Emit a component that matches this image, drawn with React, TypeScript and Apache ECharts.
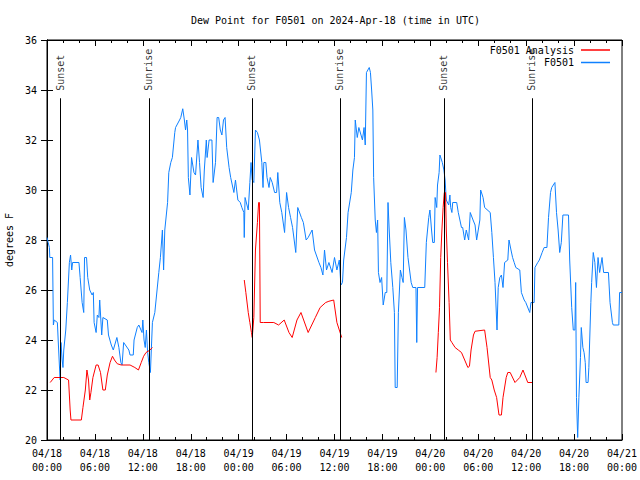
import React, { useEffect, useRef } from "react";
import * as echarts from "echarts";

const title = "Dew Point for F0501 on 2024-Apr-18 (time in UTC)";
const yAxisName = "degrees F";
const obsName = "F0501";
const anaName = "F0501 Analysis";

// hours since 2024-04-18 00:00 UTC
const obsHours = [
  0.0, 0.15, 0.3, 0.35, 0.7, 0.8, 0.9, 1.3, 1.4, 1.55, 1.65, 1.75, 1.9, 2.0, 2.1, 2.35, 2.55, 2.8, 2.95, 3.1,
  3.2, 4.0, 4.15, 4.4, 4.6, 4.7, 4.95, 5.1, 5.35, 5.65, 5.8, 5.9, 6.15, 6.3, 6.5, 6.6, 6.85, 7.0, 7.55, 7.7,
  8.05, 8.3, 8.75, 9.0, 9.25, 9.4, 9.6, 10.25, 10.4, 10.8, 10.9, 11.3, 11.5, 11.9, 12.0, 12.15, 12.3, 12.45, 12.6, 12.75,
  12.95, 13.2, 13.5, 14.0, 14.2, 14.45, 14.6, 14.75, 15.1, 15.25, 15.5, 15.7, 16.0, 16.1, 16.6, 16.75, 17.0, 17.2, 17.35, 17.5,
  17.6, 17.7, 17.9, 18.1, 18.4, 18.6, 18.9, 19.1, 19.3, 19.55, 19.7, 19.95, 20.05, 20.3, 20.65, 20.8, 21.1, 21.3, 21.5, 21.7,
  21.9, 22.1, 22.3, 22.5, 22.8, 23.0, 23.4, 23.6, 23.9, 24.2, 24.4, 24.65, 24.7, 24.8, 25.2, 25.4, 25.55, 25.7, 25.9, 26.1,
  26.35, 26.6, 26.9, 27.05, 27.15, 27.4, 27.55, 27.8, 27.95, 28.2, 28.5, 28.75, 28.9, 29.15, 29.4, 29.75, 30.0, 30.25, 30.5, 30.75,
  31.15, 31.4, 31.85, 32.1, 32.45, 32.7, 33.2, 33.5, 34.05, 34.3, 34.55, 34.75, 35.0, 35.3, 35.7, 36.0, 36.3, 36.6, 36.8, 37.0,
  37.15, 37.5, 37.7, 38.1, 38.3, 38.5, 38.6, 38.85, 39.05, 39.5, 39.7, 39.85, 40.0, 40.35, 40.5, 40.65, 40.8, 40.9, 41.1, 41.25,
  41.4, 41.5, 41.7, 41.9, 42.1, 42.35, 42.55, 42.7, 42.85, 43.05, 43.3, 43.5, 43.6, 43.85, 44.0, 44.25, 44.45, 44.6, 44.75, 44.95,
  45.2, 45.6, 45.8, 46.2, 46.3, 46.4, 47.3, 47.5, 47.8, 47.95, 48.15, 48.3, 48.5, 48.6, 48.8, 48.9, 49.1, 49.2, 49.5, 49.7,
  49.85, 50.0, 50.3, 50.45, 50.55, 50.7, 50.8, 51.3, 51.5, 51.9, 52.05, 52.3, 52.5, 52.8, 53.0, 53.35, 53.6, 53.8, 54.0, 54.2,
  54.3, 54.6, 54.8, 55.5, 55.7, 55.9, 56.1, 56.35, 56.5, 56.7, 56.9, 57.1, 57.3, 57.7, 57.85, 58.1, 58.3, 58.5, 58.7, 59.2,
  59.4, 59.75, 59.95, 60.45, 60.6, 61.0, 61.1, 61.45, 61.65, 62.0, 62.25, 62.6, 62.8, 63.05, 63.2, 63.6, 63.8, 64.0, 64.2, 64.4,
  64.6, 65.3, 65.45, 65.7, 65.9, 66.1, 66.2, 66.3, 66.45, 66.6, 66.8, 66.9, 67.1, 67.25, 67.4, 67.5, 67.75, 67.85, 68.1, 68.2,
  68.4, 68.6, 68.8, 69.0, 69.2, 69.5, 69.7, 70.3, 70.5, 70.8, 70.9, 71.6, 71.7, 72.0,
];
const obsValues = [
  28.1, 27.9, 27.7, 27.3, 27.3, 24.6, 24.8, 24.7, 24.0, 23.0, 22.4, 23.9, 23.2, 22.9, 23.6, 24.4, 25.5, 27.1, 27.4, 26.8,
  27.1, 27.1, 26.5, 25.5, 25.1, 27.3, 27.3, 26.5, 26.0, 25.8, 25.9, 24.7, 24.3, 25.0, 24.9, 25.6, 24.2, 24.9, 24.8, 24.2,
  23.8, 23.6, 24.1, 23.7, 23.1, 23.0, 23.9, 23.6, 23.4, 23.4, 24.0, 24.5, 24.6, 24.3, 24.8, 24.0, 23.7, 24.4, 23.5, 23.1,
  22.7, 24.7, 25.1, 26.7, 27.3, 28.4, 26.8, 28.4, 29.5, 30.7, 31.1, 31.3, 32.3, 32.5, 32.8, 32.9, 33.25, 32.8, 32.4, 32.8,
  32.4, 30.5, 29.8, 31.3, 30.7, 30.6, 32.0, 31.1, 30.1, 29.7, 30.8, 32.0, 31.3, 32.0, 32.0, 30.3, 31.1, 32.9, 32.9, 32.4,
  32.2, 32.8, 32.9, 31.7, 30.9, 30.5, 29.9, 30.4, 29.6, 29.5, 29.3, 29.1, 28.1, 29.7, 29.2, 30.3, 31.1, 30.4, 30.3, 32.4,
  32.3, 32.0, 31.1, 30.1, 31.1, 31.1, 30.5, 30.1, 30.5, 30.3, 29.9, 29.9, 30.7, 29.5, 29.1, 28.3, 29.9, 29.3, 28.9, 28.5,
  27.5, 29.3, 28.9, 28.7, 28.0, 28.1, 28.4, 27.6, 27.1, 26.9, 26.6, 27.6, 26.8, 27.1, 26.7, 27.3, 26.8, 27.2, 26.2, 26.3,
  27.2, 28.1, 29.1, 29.9, 30.8, 31.3, 32.8, 32.1, 32.5, 32.0, 32.5, 31.8, 34.7, 34.9, 34.7, 34.0, 33.2, 30.5, 28.8, 28.3,
  28.8, 26.7, 26.3, 26.5, 25.4, 25.9, 25.9, 29.5, 28.4, 27.1, 26.1, 25.1, 22.1, 22.1, 25.1, 26.8, 26.5, 26.3, 28.9, 28.4,
  27.3, 26.3, 26.1, 26.1, 23.9, 26.1, 26.1, 27.9, 28.9, 29.2, 28.4, 27.9, 27.9, 29.7, 29.3, 30.2, 30.7, 31.4, 31.1, 30.8,
  30.4, 29.6, 29.4, 29.8, 29.3, 29.1, 29.5, 29.5, 29.1, 28.5, 28.5, 28.0, 28.4, 28.0, 29.1, 28.8, 28.6, 28.0, 28.4, 28.8,
  30.0, 29.7, 29.3, 29.1, 28.3, 27.3, 26.3, 24.4, 26.1, 26.5, 26.6, 26.1, 27.1, 27.2, 28.0, 27.6, 27.3, 27.1, 26.9, 26.8,
  25.9, 25.6, 25.5, 25.1, 25.5, 25.5, 26.9, 27.1, 27.2, 27.5, 27.7, 27.7, 28.9, 29.9, 30.1, 30.3, 29.1, 28.4, 27.5, 27.9,
  29.0, 29.0, 27.2, 25.3, 24.4, 24.4, 26.3, 21.7, 20.1, 21.7, 23.3, 24.5, 23.7, 23.5, 23.1, 22.3, 22.3, 22.9, 25.5, 26.3,
  27.5, 27.1, 26.1, 27.3, 26.7, 27.3, 26.7, 26.7, 25.5, 24.7, 24.6, 24.6, 25.9, 25.9,
];

const anaHours = [
  0.4, 0.9, 1.5, 2.1, 2.7, 2.9, 3.0, 4.3, 4.5, 4.8, 5.0, 5.2, 5.35, 5.5, 5.75, 6.15, 6.4, 6.7, 7.0, 7.3,
  7.55, 7.9, 8.2, 8.45, 8.8, 9.3, 10.4, 11.0, 11.45, 11.8, 12.1, 12.4, 12.9, 13.2,
  18.0,
  24.7, 24.9, 25.2, 25.4, 25.6, 25.7, 25.9, 26.1, 26.35, 26.5, 26.6, 26.7, 27.1, 28.4, 29.0, 29.7, 30.3, 30.7, 31.3,
  31.8, 32.7, 33.6, 34.2, 34.9, 35.3, 35.9, 36.3, 36.9,
  42.0,
  48.7, 48.85, 49.0, 49.15, 49.3, 49.45, 49.6, 49.75, 49.9, 50.0, 50.15, 50.35, 50.5, 50.7, 51.1, 51.5, 51.9, 52.3, 52.7, 52.9,
  53.1, 53.4, 53.6, 54.8, 55.1, 55.5, 55.7, 56.0, 56.3, 56.6, 56.9, 57.1, 57.5, 57.7, 58.0, 58.6, 59.2, 59.6, 60.2, 60.8,
];
const anaValues = [
  22.3, 22.5, 22.5, 22.5, 22.4, 21.2, 20.8, 20.8, 21.3, 22.0, 22.8, 22.4, 21.6, 21.9, 22.5, 23.0, 23.0, 22.7, 22.0, 22.0,
  22.6, 23.1, 23.35, 23.2, 23.05, 23.0, 23.0, 22.9, 22.8, 23.1, 23.35, 23.5, 23.6, 23.7,
  null,
  26.4, 25.9, 25.1, 24.7, 24.3, 24.1, 24.9, 27.6, 28.7, 29.5, 29.5, 24.7, 24.7, 24.7, 24.6, 24.8, 24.3, 24.1, 24.8,
  25.1, 24.3, 24.9, 25.3, 25.5, 25.55, 25.6, 24.7, 24.1,
  null,
  22.7, 23.3, 24.3, 25.3, 27.3, 28.4, 29.3, 29.9, 29.9, 28.4, 27.1, 25.5, 24.0, 23.9, 23.7, 23.6, 23.5, 23.2, 22.9, 22.95,
  23.6, 24.2, 24.35, 24.4, 23.7, 22.5, 22.4, 22.0, 21.7, 21.0, 21.0, 21.7, 22.5, 22.7, 22.7, 22.3, 22.5, 22.8, 22.3, 22.3,
];

const sunHours = [1.72, 12.8, 25.7, 36.73, 49.75, 60.78];
const sunLabels = ["Sunset", "Sunrise", "Sunset", "Sunrise", "Sunset", "Sunrise"];
const sunLineTop = 33.67;

const yTicks = { min: 20, max: 36, step: 2 };
const xTicks = { min: 0, max: 72, step: 6, startDay: 18, month: "04" };

const FONT = "DejaVu Sans Mono";

function fmtX(v: number): string {
  const d = xTicks.startDay + Math.floor(v / 24);
  const h = Math.round(v % 24);
  return `${xTicks.month}/${d}\n${String(h).padStart(2, "0")}:00`;
}

export default function App() {
  const ref = useRef<HTMLDivElement>(null);
  useEffect(() => {
    if (!ref.current) return;
    const chart = echarts.init(ref.current, null, { renderer: "svg" });
    const obsData = obsHours.map((h, i) => [h, obsValues[i]]);
    const anaData = anaHours.map((h, i) => [h, anaValues[i] === null ? "-" : anaValues[i]]);
    const textStyle = { fontFamily: FONT, fontSize: 10, color: "#000" };
    const xCommon = {
      type: "value" as const,
      min: xTicks.min,
      max: xTicks.max,
      interval: xTicks.step,
      axisLine: { show: true, lineStyle: { color: "#000", width: 1 } },
      axisTick: { show: true, inside: true, length: 6, lineStyle: { color: "#000" } },
      minorTick: { show: true, splitNumber: 3, length: 3, lineStyle: { color: "#000" } },
      splitLine: { show: false },
    };
    const yCommon = {
      type: "value" as const,
      min: yTicks.min,
      max: yTicks.max,
      interval: yTicks.step,
      axisLine: { show: true, lineStyle: { color: "#000", width: 1 } },
      axisTick: { show: true, inside: true, length: 6, lineStyle: { color: "#000" } },
      splitLine: { show: false },
    };
    chart.setOption({
      animation: false,
      backgroundColor: "#fff",
      textStyle: { fontFamily: FONT },
      title: {
        text: title,
        left: 186,
        top: 10,
        textStyle: { ...textStyle, fontWeight: "normal" },
      },
      legend: {
        data: [anaName, obsName],
        orient: "vertical",
        align: "right",
        right: 30,
        top: 45,
        padding: 0,
        icon: "rect",
        itemWidth: 29,
        itemHeight: 1.5,
        itemGap: 2.5,
        textStyle: { ...textStyle, padding: [0, 2, 0, 0] },
      },
      grid: {
        left: 47,
        right: 18,
        top: 40,
        bottom: 40,
        show: true,
        borderColor: "#000",
        borderWidth: 1,
        containLabel: false,
        outerBoundsMode: "none",
      },
      xAxis: [
        {
          ...xCommon,
          position: "bottom",
          axisLabel: { ...textStyle, margin: 6, lineHeight: 14, formatter: fmtX },
        },
        {
          ...xCommon,
          position: "top",
          axisLabel: { show: false },
        },
      ],
      yAxis: [
        {
          ...yCommon,
          position: "left",
          name: yAxisName,
          nameLocation: "middle",
          nameGap: 32,
          nameRotate: 90,
          nameTextStyle: { ...textStyle },
          axisLabel: { ...textStyle, margin: 10 },
        },
        {
          ...yCommon,
          position: "right",
          axisLabel: { show: false },
        },
      ],
      series: [
        {
          type: "scatter",
          name: "sun",
          silent: true,
          symbolSize: 1,
          itemStyle: { color: "rgba(0,0,0,0)" },
          data: sunHours.map((h, i) => ({ name: sunLabels[i], value: [h, sunLineTop] })),
          label: {
            show: true,
            formatter: "{b}",
            rotate: 90,
            position: [0, -7],
            align: "left",
            verticalAlign: "middle",
            ...textStyle,
          },
          markLine: {
            silent: true,
            symbol: ["none", "none"],
            label: { show: false },
            lineStyle: { color: "#000", width: 1, type: "solid" },
            data: sunHours.map((h) => [{ coord: [h, yTicks.min] }, { coord: [h, sunLineTop] }]),
          },
          z: 1,
        },
        {
          type: "line",
          name: anaName,
          data: anaData,
          symbol: "none",
          connectNulls: false,
          lineStyle: { color: "#ff0000", width: 1 },
          itemStyle: { color: "#ff0000" },
          z: 3,
        },
        {
          type: "line",
          name: obsName,
          data: obsData,
          symbol: "none",
          lineStyle: { color: "#0f80ff", width: 1 },
          itemStyle: { color: "#0f80ff" },
          z: 2,
        },
      ],
    });
    return () => chart.dispose();
  }, []);
  return <div ref={ref} style={{ position: "fixed", left: 0, top: 0, width: 640, height: 480 }} />;
}
